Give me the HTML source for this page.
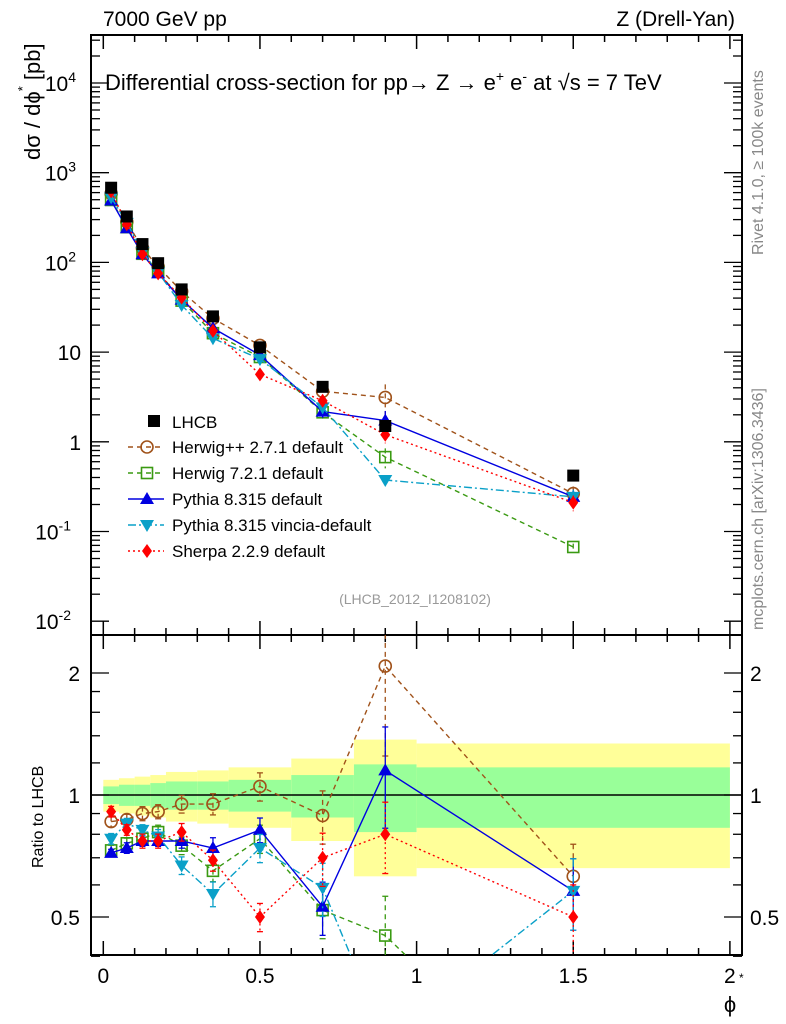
<!DOCTYPE html>
<html><head><meta charset="utf-8"><style>
html,body{margin:0;background:#fff;width:786px;height:1024px;overflow:hidden;}
svg{display:block;font-family:"Liberation Sans",sans-serif;}
</style></head><body>
<svg id="c" width="786" height="1024" viewBox="0 0 786 1024" xmlns="http://www.w3.org/2000/svg"></svg>
<script>
const xs=[0.025,0.075,0.125,0.175,0.25,0.35,0.5,0.7,0.9,1.5];
const binEdges=[0,0.05,0.1,0.15,0.2,0.3,0.4,0.6,0.8,1.0,2.0];
const dataVals=[680,325,160,98,50,25,11.3,4.1,1.5,0.42];
const bandYellow=[0.09,0.10,0.11,0.12,0.14,0.15,0.17,0.23,0.37,0.34];
const bandGreen=[0.05,0.06,0.06,0.07,0.08,0.08,0.09,0.12,0.19,0.17];
const ratioHerwigPP=[0.86,0.87,0.90,0.91,0.95,0.95,1.05,0.89,2.08,0.63];
const ratioHerwig7=[0.73,0.76,0.78,0.81,0.75,0.65,0.78,0.52,0.45,0.16];
const ratioPythia=[0.72,0.74,0.77,0.77,0.77,0.74,0.82,0.53,1.15,0.58];
const ratioVincia=[0.78,0.85,0.82,0.79,0.67,0.57,0.74,0.59,0.25,0.58];
const ratioSherpa=[0.91,0.82,0.77,0.77,0.81,0.69,0.50,0.70,0.80,0.50];
const errHerwigPP=[0.03,0.03,0.04,0.04,0.05,0.06,0.08,0.15,0.4,0.2];
const errHerwig7=[0.03,0.03,0.04,0.04,0.05,0.06,0.08,0.15,0.25,0.09];
const errPythia=[0.02,0.03,0.03,0.03,0.04,0.06,0.07,0.15,0.28,0.2];
const errVincia=[0.03,0.03,0.03,0.04,0.05,0.07,0.08,0.15,0.1,0.2];
const errSherpa=[0.03,0.03,0.04,0.04,0.05,0.06,0.08,0.15,0.2,0.2];

const svg=document.getElementById('c');
const NS='http://www.w3.org/2000/svg';
function mk(tag,attrs,parent){const e=document.createElementNS(NS,tag);for(const k in attrs)e.setAttribute(k,attrs[k]);(parent||svg).appendChild(e);return e;}
const L=91,R=742,T=35,MID=635,B=955;
const X=v=>103.3+313.3*v;
const Ym=v=>441.8-89.7*Math.log10(v);
const Yr=v=>795-122*Math.log2(v);

for(let i=0;i<xs.length;i++){
  let r=mk('rect',{x:X(binEdges[i]),y:Yr(1+bandYellow[i]),width:X(binEdges[i+1])-X(binEdges[i]),height:Yr(1-bandYellow[i])-Yr(1+bandYellow[i]),fill:'#ffff99'});
  
  
  let g=mk('rect',{x:X(binEdges[i]),y:Yr(1+bandGreen[i]),width:X(binEdges[i+1])-X(binEdges[i]),height:Yr(1-bandGreen[i])-Yr(1+bandGreen[i]),fill:'#99ff99'});
  
  
}
mk('line',{x1:L,x2:R,y1:Yr(1),y2:Yr(1),stroke:'#000','stroke-width':1.5});

mk('rect',{x:L,y:T,width:R-L,height:MID-T,fill:'none',stroke:'#000','stroke-width':2,});
mk('rect',{x:L,y:MID,width:R-L,height:B-MID,fill:'none',stroke:'#000','stroke-width':2,});

for(let v=0;v<=2.001;v+=0.1){
  const major=Math.abs(v*2-Math.round(v*2))<1e-6;
  const len=major?14:7;
  for(const [y0,dir] of [[T,1],[MID,-1],[MID,1],[B,-1]]){
    mk('line',{x1:X(v),x2:X(v),y1:y0,y2:y0+dir*len,stroke:'#000','stroke-width':1.5});
  }
}
['0','0.5','1','1.5','2'].forEach((t,i)=>{
  const e=mk('text',{x:X(i*0.5),y:983,'font-size':21,'text-anchor':'middle'});e.textContent=t;
  
  
});
let xt=mk('text',{x:730,y:1012,'font-size':22,'text-anchor':'middle',});xt.textContent='ϕ';
let xs2=mk('text',{x:739,y:982,'font-size':12});xs2.textContent='*';

for(let d=-2;d<=4;d++){
  for(let m=1;m<10;m++){
    const v=m*Math.pow(10,d);const y=Ym(v);if(y<T||y>MID)continue;
    const len=m==1?18:9;
    mk('line',{x1:L,x2:L+len,y1:y,y2:y,stroke:'#000','stroke-width':1.3});
    mk('line',{x1:R,x2:R-len,y1:y,y2:y,stroke:'#000','stroke-width':1.3});
  }
}
const ylab=[['10','-2'],['10','-1'],['1',''],['10',''],['10','2'],['10','3'],['10','4']];
ylab.forEach((l,i)=>{
  const y=Ym(Math.pow(10,i-2))+8;
  const e=mk('text',{x:l[1]?(l[1].length>1?71:76):81,y:y,'font-size':21,'text-anchor':'end',});
  e.textContent=l[0];
  if(l[1]){const s=mk('tspan',{dy:-9,'font-size':14},e);s.textContent=l[1];}
});
[0.4,0.5,0.6,0.7,0.8,0.9,1,2].forEach(v=>{
  const y=Yr(v);const len=(v==1||v==0.5||v==2)?18:9;
  mk('line',{x1:L,x2:L+len,y1:y,y2:y,stroke:'#000','stroke-width':1.3});
  mk('line',{x1:R,x2:R-len,y1:y,y2:y,stroke:'#000','stroke-width':1.3});
});
[1.2,1.4,1.6,1.8].forEach(v=>{const y=Yr(v);
  mk('line',{x1:L,x2:L+9,y1:y,y2:y,stroke:'#000','stroke-width':1.3});
  mk('line',{x1:R,x2:R-9,y1:y,y2:y,stroke:'#000','stroke-width':1.3});});
[['2',2],['1',1],['0.5',0.5]].forEach(([t,v])=>{
  let a=mk('text',{x:80,y:Yr(v)+8,'font-size':21,'text-anchor':'end',});a.textContent=t;
  let b=mk('text',{x:750,y:Yr(v)+8,'font-size':21,});b.textContent=t;
});

let t1=mk('text',{x:103,y:26,'font-size':21,});t1.textContent='7000 GeV pp';
let t2=mk('text',{x:735,y:26,'font-size':21,'text-anchor':'end',});t2.textContent='Z (Drell-Yan)';
let t3=mk('text',{x:105,y:90,'font-size':22,});
t3.innerHTML='Differential cross-section for pp→  Z →  e<tspan dy="-9" font-size="14">+</tspan><tspan dy="9"> e</tspan><tspan dy="-9" font-size="14">-</tspan><tspan dy="9"> at √s = 7 TeV</tspan>';
let t4=mk('text',{x:0,y:0,'font-size':22,'transform':'translate(40,160) rotate(-90)',});
t4.innerHTML='dσ / dϕ<tspan dy="-13" font-size="13">*</tspan><tspan dy="13"> [pb]</tspan>';
let t5=mk('text',{x:0,y:0,'font-size':16,'transform':'translate(43,868) rotate(-90)',});t5.textContent='Ratio to LHCB';
let t6=mk('text',{x:0,y:0,'font-size':16,fill:'#888','transform':'translate(763,255) rotate(-90)',});t6.textContent='Rivet 4.1.0, ≥ 100k events';
let t7=mk('text',{x:0,y:0,'font-size':16,fill:'#888','transform':'translate(763,630) rotate(-90)',});t7.textContent='mcplots.cern.ch [arXiv:1306.3436]';
let t8=mk('text',{x:415,y:604,'font-size':14,fill:'#999','text-anchor':'middle',});t8.textContent='(LHCB_2012_I1208102)';

function marker(type,x,y,color,g){
  if(type=='sq')mk('rect',{x:x-6,y:y-6,width:12,height:12,fill:color},g);
  else if(type=='osq')mk('rect',{x:x-5.5,y:y-5.5,width:11,height:11,fill:'none',stroke:color,'stroke-width':1.6},g);
  else if(type=='oc')mk('circle',{cx:x,cy:y,r:6,fill:'none',stroke:color,'stroke-width':1.6},g);
  else if(type=='tu')mk('polygon',{points:`${x},${y-7} ${x-7},${y+5} ${x+7},${y+5}`,fill:color},g);
  else if(type=='td')mk('polygon',{points:`${x},${y+7} ${x-7},${y-5} ${x+7},${y-5}`,fill:color},g);
  else if(type=='di')mk('polygon',{points:`${x},${y-7} ${x-5},${y} ${x},${y+7} ${x+5},${y}`,fill:color},g);
}
const series=[
  {name:'herwigpp',label:'Herwig++ 2.7.1 default',color:'#a0521a',dash:'5,4',mk:'oc',r:ratioHerwigPP,e:errHerwigPP},
  {name:'herwig7',label:'Herwig 7.2.1 default',color:'#3a9a12',dash:'5,4',mk:'osq',r:ratioHerwig7,e:errHerwig7},
  {name:'pythia',label:'Pythia 8.315 default',color:'#0000e0',dash:'',mk:'tu',r:ratioPythia,e:errPythia},
  {name:'vincia',label:'Pythia 8.315 vincia-default',color:'#0aa0c8',dash:'8,3,2,3',mk:'td',r:ratioVincia,e:errVincia},
  {name:'sherpa',label:'Sherpa 2.2.9 default',color:'#ff0000',dash:'2,3',mk:'di',r:ratioSherpa,e:errSherpa},
];
const cpM=mk('clipPath',{id:'cm'});mk('rect',{x:L,y:T,width:R-L,height:MID-T},cpM);
const cpR=mk('clipPath',{id:'cr'});mk('rect',{x:L,y:MID,width:R-L,height:B-MID},cpR);

const gd=mk('g',{});
xs.forEach((x,i)=>marker('sq',X(x),Ym(dataVals[i]),'#000',gd));

series.forEach(s=>{
  const gm=mk('g',{'clip-path':'url(#cm)'});
  
  
  const pts=xs.map((x,i)=>`${X(x)},${Ym(s.r[i]*dataVals[i])}`).join(' ');
  mk('polyline',{points:pts,fill:'none',stroke:s.color,'stroke-width':1.4,'stroke-dasharray':s.dash},gm);
  xs.forEach((x,i)=>{const v=s.r[i]*dataVals[i];
    mk('line',{x1:X(x),x2:X(x),y1:Ym(v*(1+s.e[i])),y2:Ym(v*Math.max(0.05,1-s.e[i])),stroke:s.color,'stroke-width':1.3,'stroke-dasharray':s.dash},gm);
    marker(s.mk,X(x),Ym(v),s.color,gm);});
  const gr=mk('g',{'clip-path':'url(#cr)'});
  
  
  const pr=xs.map((x,i)=>`${X(x)},${Yr(s.r[i])}`).join(' ');
  mk('polyline',{points:pr,fill:'none',stroke:s.color,'stroke-width':1.4,'stroke-dasharray':s.dash},gr);
  xs.forEach((x,i)=>{
    const y1=Yr(s.r[i]*(1+s.e[i])),y2=Yr(s.r[i]*Math.max(0.05,1-s.e[i]));
    mk('line',{x1:X(x),x2:X(x),y1:y1,y2:y2,stroke:s.color,'stroke-width':1.3,'stroke-dasharray':s.dash},gr);
    mk('line',{x1:X(x)-3,x2:X(x)+3,y1:y1,y2:y1,stroke:s.color,'stroke-width':1.3},gr);
    mk('line',{x1:X(x)-3,x2:X(x)+3,y1:y2,y2:y2,stroke:s.color,'stroke-width':1.3},gr);
    marker(s.mk,X(x),Yr(s.r[i]),s.color,gr);});
});
svg.appendChild(gd);

const lg=mk('g',{});
let ly=421;
marker('sq',154,ly,'#000',lg);
let le=mk('text',{x:172,y:ly+7,'font-size':17},lg);le.textContent='LHCB';


series.forEach((s,i)=>{
  const y=ly+26*(i+1);
  mk('line',{x1:128,x2:164,y1:y,y2:y,stroke:s.color,'stroke-width':1.4,'stroke-dasharray':s.dash},lg);
  marker(s.mk,147,y,s.color,lg);
  const t=mk('text',{x:172,y:y+6,'font-size':17},lg);t.textContent=s.label;
  
  
});
</script>
</body></html>
